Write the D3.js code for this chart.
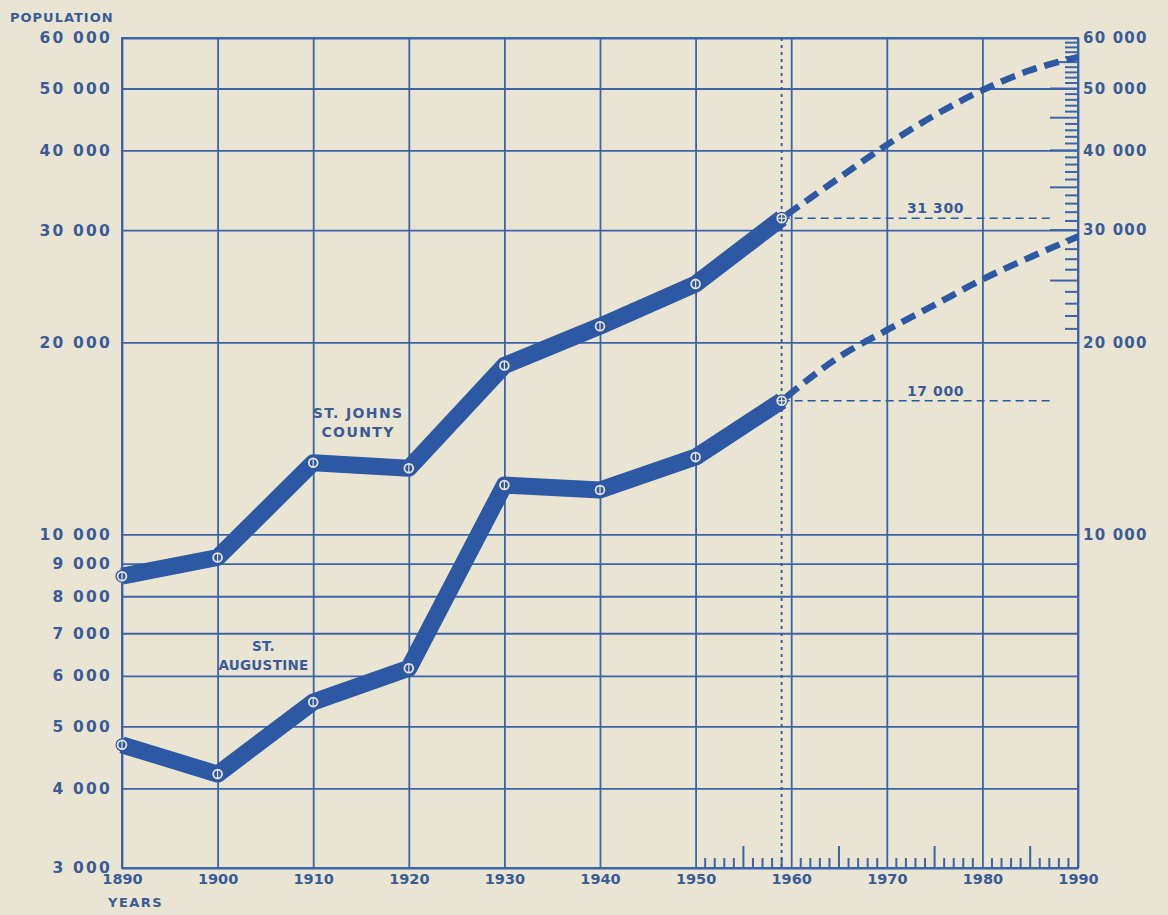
<!DOCTYPE html>
<html>
<head>
<meta charset="utf-8">
<script src="https://cdn.jsdelivr.net/npm/d3@7"></script>
<style>
  body { margin: 0; background: #e9e5d2; }
  svg { display: block; }
  .lbl { font-family: "DejaVu Sans", sans-serif; font-weight: bold; fill: #3a5b98; }
</style>
</head>
<body>
<svg id="chart" width="1168" height="915"></svg>
<script>
// census years, last one is the 1959 estimate
var years = [1890, 1900, 1910, 1920, 1930, 1940, 1950, 1959];
var stJohns = [8600, 9200, 12950, 12700, 18400, 21200, 24700, 31300];
var stAugustine = [4680, 4210, 5460, 6170, 11950, 11740, 13220, 16200];

// projections (dashed)
var projYears = [1959, 1965, 1970, 1975, 1980, 1985, 1990];
var stJohnsProj = [31300, 36200, 40800, 45400, 49700, 53400, 56000];
var stAugustineProj = [16200, 18970, 20900, 22900, 25100, 27200, 29300];

// axis ticks
var yTicks = [3000, 4000, 5000, 6000, 7000, 8000, 9000, 10000, 20000, 30000, 40000, 50000, 60000];
var yTicksRight = [10000, 20000, 30000, 40000, 50000, 60000];
var xTicks = [1890, 1900, 1910, 1920, 1930, 1940, 1950, 1960, 1970, 1980, 1990];

// reference labels at the 1959 estimate
var refValues = [31300, 16200];
var refLabels = ['31 300', '17 000'];

var ink = '#2d58a4';
var gridC = '#3d63a9';
var paper = '#e9e5d2';

var W = 1168, H = 915;
var margin = {left: 122, right: 90, top: 38, bottom: 47};
var iw = W - margin.left - margin.right;
var ih = H - margin.top - margin.bottom;

var svg = d3.select('#chart');
svg.append('rect').attr('width', W).attr('height', H).attr('fill', paper);

var g = svg.append('g').attr('transform', 'translate(' + margin.left + ',' + margin.top + ')');

var x = d3.scaleLinear().domain([1890, 1990]).range([0, iw]);
var y = d3.scaleLog().domain([3000, 60000]).range([ih, 0]);

var loc = d3.formatLocale({decimal: '.', thousands: ' ', grouping: [3], currency: ['', '']});
var fmt = loc.format(',');

// horizontal grid + left labels
var yAxis = g.append('g')
  .call(d3.axisLeft(y).tickValues(yTicks).tickSize(-iw).tickPadding(10).tickFormat(fmt));
yAxis.select('.domain').remove();
yAxis.selectAll('.tick line').attr('stroke', gridC).attr('stroke-width', 1.8);
yAxis.selectAll('.tick text').attr('class', 'lbl').attr('font-size', 15.5).attr('letter-spacing', 2.2);

// vertical grid + bottom labels
var xAxis = g.append('g')
  .attr('transform', 'translate(0,' + ih + ')')
  .call(d3.axisBottom(x).tickValues(xTicks).tickSize(ih).tickPadding(-ih + 8).tickFormat(d3.format('d')));
xAxis.select('.domain').remove();
xAxis.selectAll('.tick line').attr('stroke', gridC).attr('stroke-width', 1.8).attr('y2', -ih);
xAxis.selectAll('.tick text').attr('class', 'lbl').attr('font-size', 14.5).attr('dy', '0.71em').attr('y', 6);

// right labels
var rAxis = g.append('g')
  .attr('transform', 'translate(' + iw + ',0)')
  .call(d3.axisRight(y).tickValues(yTicksRight).tickSize(0).tickPadding(5).tickFormat(fmt));
rAxis.select('.domain').remove();
rAxis.selectAll('.tick text').attr('class', 'lbl').attr('font-size', 15).attr('letter-spacing', 1.2);

// right minor ticks 20 000 - 60 000
var rMinor = d3.range(21000, 60000, 1000);
g.append('g').selectAll('line').data(rMinor).enter().append('line')
  .attr('x1', function (d) { return iw - (d % 5000 === 0 ? 28 : 13); })
  .attr('x2', iw)
  .attr('y1', function (d) { return y(d); })
  .attr('y2', function (d) { return y(d); })
  .attr('stroke', gridC).attr('stroke-width', 2);

// bottom minor ticks 1950 - 1990
var xMinor = d3.range(1951, 1990, 1).filter(function (d) { return d % 10 !== 0; });
g.append('g').selectAll('line').data(xMinor).enter().append('line')
  .attr('x1', function (d) { return x(d); })
  .attr('x2', function (d) { return x(d); })
  .attr('y1', function (d) { return ih - (d % 5 === 0 ? 22 : 10); })
  .attr('y2', ih)
  .attr('stroke', gridC).attr('stroke-width', 2);

// frame
g.append('rect').attr('width', iw).attr('height', ih)
  .attr('fill', 'none').attr('stroke', gridC).attr('stroke-width', 2);

// dotted 1959 line
g.append('line')
  .attr('x1', x(1959)).attr('x2', x(1959)).attr('y1', 0).attr('y2', ih)
  .attr('stroke', ink).attr('stroke-width', 1.8).attr('stroke-dasharray', '3,4');

// reference dashed lines + labels
refValues.forEach(function (v, i) {
  g.append('line')
    .attr('x1', x(1959)).attr('x2', x(1987.4))
    .attr('y1', y(v)).attr('y2', y(v))
    .attr('stroke', ink).attr('stroke-width', 1.6).attr('stroke-dasharray', '8,5');
  g.append('text').attr('class', 'lbl')
    .attr('x', x(1975.1)).attr('y', y(v) - 5)
    .attr('text-anchor', 'middle').attr('font-size', 14).attr('letter-spacing', 0.6)
    .text(refLabels[i]);
});

var line = d3.line()
  .x(function (d) { return x(d[0]); })
  .y(function (d) { return y(d[1]); });

var projLine = d3.line()
  .x(function (d) { return x(d[0]); })
  .y(function (d) { return y(d[1]); })
  .curve(d3.curveMonotoneX);

[stJohnsProj, stAugustineProj].forEach(function (vals) {
  g.append('path')
    .datum(projYears.map(function (yr, i) { return [yr, vals[i]]; }))
    .attr('d', projLine)
    .attr('fill', 'none').attr('stroke', ink).attr('stroke-width', 6.5)
    .attr('stroke-dasharray', '15,8').attr('stroke-dashoffset', -6);
});

[stJohns, stAugustine].forEach(function (vals) {
  var pts = years.map(function (yr, i) { return [yr, vals[i]]; });
  g.append('path')
    .datum(pts)
    .attr('d', line)
    .attr('fill', 'none').attr('stroke', ink).attr('stroke-width', 17)
    .attr('stroke-linejoin', 'round').attr('stroke-linecap', 'butt');

  var m = g.append('g').selectAll('g').data(pts).enter().append('g')
    .attr('transform', function (d) { return 'translate(' + x(d[0]) + ',' + y(d[1]) + ')'; });
  m.append('circle').attr('r', 6.5).attr('fill', ink);
  m.append('circle').attr('r', 4.4).attr('fill', 'none').attr('stroke', paper).attr('stroke-width', 1.8);
  m.append('line').attr('x1', 0).attr('x2', 0).attr('y1', -4).attr('y2', 4)
    .attr('stroke', paper).attr('stroke-width', 1.2);
  m.filter(function (d) { return d[0] === 1959; })
    .append('line').attr('x1', -4).attr('x2', 4).attr('y1', 0).attr('y2', 0)
    .attr('stroke', paper).attr('stroke-width', 1.2);
});

// series labels
function label(lines, yr, v, size, ls) {
  var t = g.append('text').attr('class', 'lbl')
    .attr('x', x(yr)).attr('y', y(v))
    .attr('text-anchor', 'middle').attr('font-size', size).attr('letter-spacing', ls);
  lines.forEach(function (s, i) {
    t.append('tspan').attr('x', x(yr)).attr('dy', i === 0 ? 0 : 19).text(s);
  });
}
label(['ST. JOHNS', 'COUNTY'], 1914.7, 15200, 14, 1.4);
label(['ST.', 'AUGUSTINE'], 1904.8, 6560, 13.5, 0.3);

// axis titles
svg.append('text').attr('class', 'lbl')
  .attr('x', 10).attr('y', 22).attr('font-size', 13).attr('letter-spacing', 1)
  .text('POPULATION');
svg.append('text').attr('class', 'lbl')
  .attr('x', 108).attr('y', 907).attr('font-size', 13).attr('letter-spacing', 1.5)
  .text('YEARS');
</script>
</body>
</html>
